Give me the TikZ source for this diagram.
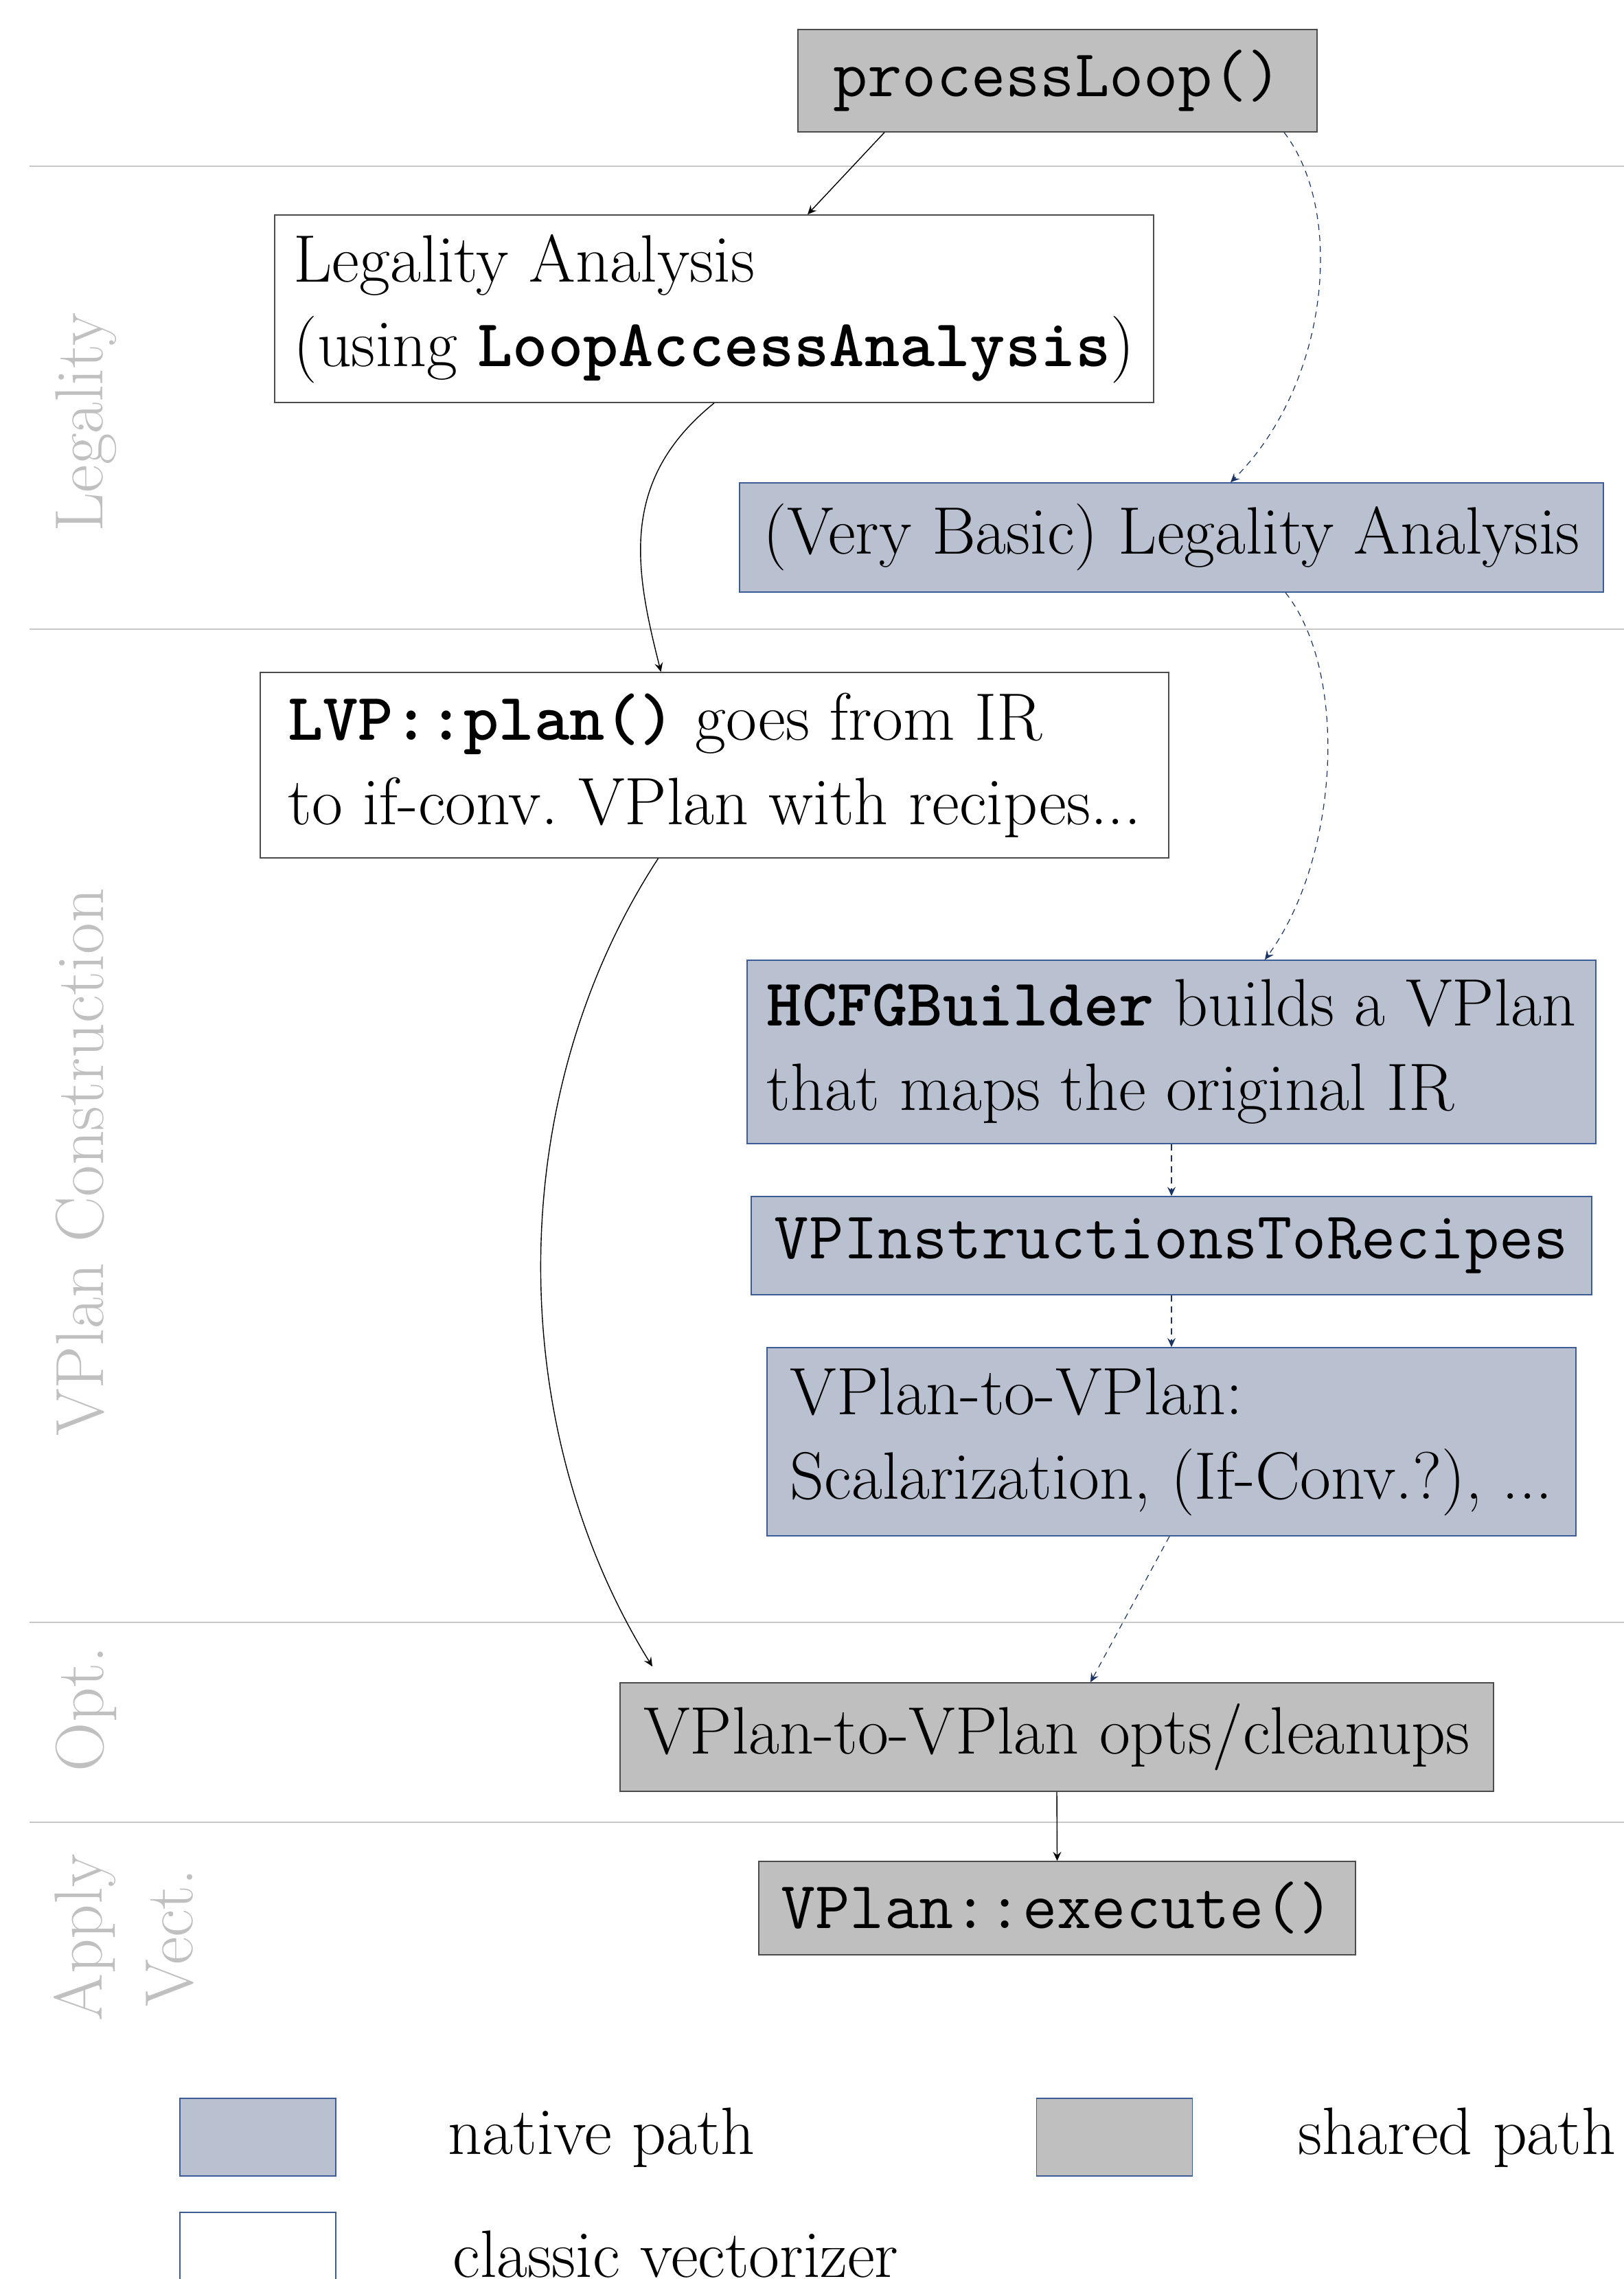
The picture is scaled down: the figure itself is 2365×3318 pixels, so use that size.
\documentclass[tikz,border=0pt]{standalone}
\usetikzlibrary{arrows.meta,calc}

\definecolor{nativefill}{RGB}{185,192,208}
\definecolor{nativeedge}{RGB}{60,92,150}
\definecolor{sharedfill}{RGB}{191,191,191}
\definecolor{arrownavy}{RGB}{28,52,100}
\definecolor{bandline}{RGB}{200,200,200}
\definecolor{bandtext}{RGB}{192,192,192}

\newcommand{\boxfont}{\fontsize{24.4}{30.75}\selectfont}
\newcommand{\bandfont}{\fontsize{24.8}{33}\selectfont}

\tikzset{
  stage/.style={draw=black!70, line width=0.4pt, inner sep=0pt, align=left,
    font=\boxfont},
  classicbox/.style={stage, fill=white},
  sharedbox/.style={stage, fill=sharedfill},
  nativebox/.style={stage, draw=nativeedge, fill=nativefill},
  band/.style={draw=bandline, line width=0.5pt},
  bandlabel/.style={rotate=90, anchor=north, text=bandtext, font=\bandfont,
    align=center, inner sep=0pt},
  classicflow/.style={draw=black, line width=0.35pt,
    -{Stealth[length=3.3pt, width=3pt, inset=1.2pt]}},
  nativeflow/.style={draw=arrownavy, line width=0.3pt,
    dash pattern=on 2.2pt off 1.8pt,
    -{Stealth[length=3.3pt, width=3pt, inset=1.2pt]}},
  legendkey/.style={draw=nativeedge, line width=0.4pt, minimum width=56.75pt,
    minimum height=28.25pt, inner sep=0pt},
  legendtext/.style={anchor=base west, font=\boxfont, inner sep=0pt},
}

\begin{document}
\begin{tikzpicture}[x=0.25pt, y=-0.25pt]
  \useasboundingbox (0,0) rectangle (2365,3318);

  % phase separators
  \foreach \yy/\nm in {242/s1, 916/s2, 2362/s3, 2653/s4}{
    \coordinate (\nm a) at (43,\yy);
    \coordinate (\nm b) at (2365,\yy);
    \draw[band] (\nm a) -- (\nm b);
  }

  % phase labels
  \node[bandlabel] (lblLegal) at (80,615) {Legality};
  \node[bandlabel] (lblCons)  at (80,1692) {VPlan Construction};
  \node[bandlabel] (lblOpt)   at (80,2488) {Opt.};
  \node[bandlabel] (lblApply) at (78,2821) {Apply\\Vect.};

  % pipeline stages
  \node[sharedbox, minimum width=189pt, minimum height=37.25pt] (pl) at (1540,117.5)
    {\ttfamily processLoop()};
  \node[classicbox, minimum width=320pt, minimum height=68.25pt] (la) at (1040,449.5)
    {Legality Analysis\\(using {\ttfamily\bfseries LoopAccessAnalysis})};
  \node[nativebox, minimum width=314.5pt, minimum height=39.75pt] (vb) at (1706,782.5)
    {(Very Basic) Legality Analysis};
  \node[classicbox, minimum width=330.75pt, minimum height=67.5pt] (lvp) at (1040.5,1114)
    {{\ttfamily\bfseries LVP::plan()} goes from IR\\to if-conv.\ VPlan with recipes...};
  \node[nativebox, minimum width=309pt, minimum height=66.75pt] (hcfg) at (1706,1531.5)
    {{\ttfamily\bfseries HCFGBuilder} builds a VPlan\\that maps the original IR};
  \node[nativebox, minimum width=306pt, minimum height=35.75pt] (vpi) at (1706,1813.5)
    {\ttfamily VPInstructionsToRecipes};
  \node[nativebox, minimum width=294.5pt, minimum height=68.5pt] (v2v) at (1706,2099)
    {VPlan-to-VPlan:\\Scalarization, (If-Conv.?), ...};
  \node[sharedbox, minimum width=318pt, minimum height=39.5pt] (opt) at (1539,2529)
    {VPlan-to-VPlan opts/cleanups};
  \node[sharedbox, minimum width=217.25pt, minimum height=34pt] (exe) at (1539.5,2778)
    {\ttfamily VPlan::execute()};

  % classic vectorizer flow
  \draw[classicflow] ($(pl.south)+(-252,0)$) -- ($(la.north)+(136,0)$);
  \draw[classicflow] (la.south) .. controls (900,700) and (925,830) .. ($(lvp.north)+(-78,0)$);
  \draw[classicflow] ($(lvp.south)+(-82,0)$) .. controls (730,1600) and (735,2080) .. ($(opt.north)+(-589,-23)$);
  \draw[classicflow] (opt.south) -- (exe.north);

  % native VPlan flow
  \draw[nativeflow] ($(pl.south)+(330,0)$) .. controls (1960,310) and (1935,560) .. ($(vb.north)+(86,0)$);
  \draw[nativeflow] ($(vb.south)+(166,0)$) .. controls (1965,980) and (1950,1250) .. ($(hcfg.north)+(136,0)$);
  \draw[nativeflow] (hcfg.south) -- (vpi.north);
  \draw[nativeflow] (vpi.south) -- (v2v.north);
  \draw[nativeflow] ($(v2v.south)+(-3,0)$) -- ($(opt.north)+(49,0)$);

  % legend
  \node[legendkey, fill=nativefill] (kNative) at (375.5,3111.5) {};
  \node[legendtext] (tNative) at (652,3136) {native path};
  \node[legendkey, fill=sharedfill] (kShared) at (1623,3111.5) {};
  \node[legendtext] (tShared) at (1890,3136) {shared path};
  \node[legendkey, fill=white] (kClassic) at (375.5,3277.5) {};
  \node[legendtext] (tClassic) at (659,3315) {classic vectorizer};
\end{tikzpicture}
\end{document}
